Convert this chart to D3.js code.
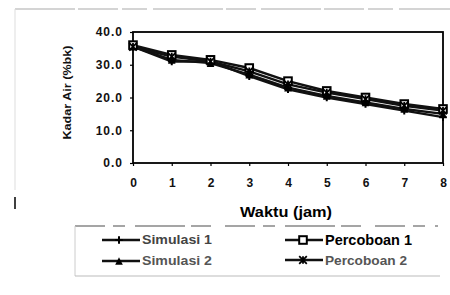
<!DOCTYPE html>
<html>
<head>
<meta charset="utf-8">
<script src="https://cdn.jsdelivr.net/npm/d3@7"></script>
<style>
  body { margin: 0; background: #fff; }
  svg { display: block; font-family: "Liberation Sans", Arial, sans-serif; }
</style>
</head>
<body>
<div id="chart"></div>
<script>
var hours = [0, 1, 2, 3, 4, 5, 6, 7, 8];
var yTicks = [0, 10, 20, 30, 40];
var simulasi1 = [35.5, 31.0, 31.0, 26.5, 22.5, 20.0, 18.0, 16.0, 14.0];
var simulasi2 = [35.5, 31.5, 30.5, 27.0, 23.0, 20.5, 18.5, 16.5, 15.0];
var percoboan1 = [36.0, 33.0, 31.5, 29.0, 25.0, 22.0, 20.0, 18.0, 16.5];
var percoboan2 = [35.5, 32.5, 31.0, 28.0, 24.0, 21.5, 19.5, 17.5, 16.0];
var seriesNames = ['Simulasi 1', 'Simulasi 2', 'Percoboan 1', 'Percoboan 2'];

var series = [
  { name: seriesNames[0], values: simulasi1, marker: 'plus' },
  { name: seriesNames[1], values: simulasi2, marker: 'triangle' },
  { name: seriesNames[2], values: percoboan1, marker: 'square' },
  { name: seriesNames[3], values: percoboan2, marker: 'cross' }
];

var width = 450, height = 295;
var plot = { left: 133, right: 443, top: 32, bottom: 163 };

var svg = d3.select('#chart').append('svg')
  .attr('width', width)
  .attr('height', height);

// faint scan frame
svg.append('line')
  .attr('x1', 15).attr('x2', 450).attr('y1', 9).attr('y2', 9)
  .attr('stroke', '#aaa').attr('stroke-width', 1.2)
  .attr('stroke-dasharray', '60,3,40,4,25,6,70,3,30,5');
svg.append('line')
  .attr('x1', 15).attr('x2', 15).attr('y1', 9).attr('y2', 190)
  .attr('stroke', '#ddd').attr('stroke-width', 1);
svg.append('line')
  .attr('x1', 15).attr('x2', 15).attr('y1', 197).attr('y2', 209)
  .attr('stroke', '#000').attr('stroke-width', 1.5);

var x = d3.scaleLinear().domain([0, 8]).range([plot.left, plot.right]);
var y = d3.scaleLinear().domain([0, 40]).range([plot.bottom, plot.top]);

// plot frame
svg.append('rect')
  .attr('x', plot.left).attr('y', plot.top)
  .attr('width', plot.right - plot.left)
  .attr('height', plot.bottom - plot.top)
  .attr('fill', 'none').attr('stroke', '#000').attr('stroke-width', 1.8);

var xAxis = svg.append('g')
  .attr('transform', 'translate(0,' + plot.bottom + ')')
  .call(d3.axisBottom(x).tickValues(hours).tickSize(3).tickPadding(12).tickFormat(d3.format('d')));
var yAxis = svg.append('g')
  .attr('transform', 'translate(' + plot.left + ',0)')
  .call(d3.axisLeft(y).tickValues(yTicks).tickSize(3).tickPadding(7).tickFormat(d3.format('.1f')));

[xAxis, yAxis].forEach(function(ax) {
  ax.select('.domain').remove();
  ax.selectAll('line').attr('stroke', '#000').attr('stroke-width', 1.2);
  ax.selectAll('text')
    .attr('fill', '#111')
    .style('font-size', '12px')
    .style('font-weight', 'bold');
});
yAxis.selectAll('text').style('letter-spacing', '1px');

svg.append('text')
  .attr('transform', 'translate(71,' + ((plot.top + plot.bottom) / 2 - 5) + ') rotate(-90)')
  .attr('text-anchor', 'middle')
  .attr('fill', '#111')
  .attr('textLength', 94)
  .attr('lengthAdjust', 'spacingAndGlyphs')
  .style('font-size', '10px')
  .style('font-weight', 'bold')
  .text('Kadar Air (%bk)');

svg.append('text')
  .attr('x', 240).attr('y', 217)
  .attr('textLength', 92)
  .attr('lengthAdjust', 'spacingAndGlyphs')
  .style('font-size', '14px')
  .style('font-weight', 'bold')
  .text('Waktu (jam)');

function drawMarker(g, type, size) {
  var s = size;
  if (type === 'square') {
    g.append('rect').attr('x', -s).attr('y', -s).attr('width', 2 * s).attr('height', 2 * s)
      .attr('fill', '#fff').attr('stroke', '#000').attr('stroke-width', 2);
  } else if (type === 'triangle') {
    g.append('path').attr('d', 'M0,' + (-s) + 'L' + s + ',' + s + 'L' + (-s) + ',' + s + 'Z')
      .attr('fill', '#000');
  } else if (type === 'plus') {
    g.append('path').attr('d', 'M0,' + (-s) + 'V' + s + 'M' + (-s) + ',0H' + s)
      .attr('stroke', '#000').attr('stroke-width', 2);
  } else {
    g.append('path').attr('d', 'M' + (-s) + ',' + (-s) + 'L' + s + ',' + s + 'M' + s + ',' + (-s) + 'L' + (-s) + ',' + s + 'M0,' + (-s) + 'V' + s)
      .attr('stroke', '#000').attr('stroke-width', 1.8);
  }
}

var line = d3.line()
  .x(function(d, i) { return x(hours[i]); })
  .y(function(d) { return y(d); });

series.forEach(function(s) {
  svg.append('path')
    .datum(s.values)
    .attr('d', line)
    .attr('fill', 'none')
    .attr('stroke', '#111')
    .attr('stroke-width', 2.4);
});
series.forEach(function(s) {
  s.values.forEach(function(v, i) {
    var g = svg.append('g').attr('transform', 'translate(' + x(hours[i]) + ',' + y(v) + ')');
    drawMarker(g, s.marker, 3.8);
  });
});

// legend
var legend = svg.append('g');
legend.append('line')
  .attr('x1', 75).attr('x2', 438).attr('y1', 226).attr('y2', 226)
  .attr('stroke', '#888').attr('stroke-width', 1.5)
  .attr('stroke-dasharray', '30,8,12,10,50,6,20,14');
legend.append('line')
  .attr('x1', 75).attr('x2', 75).attr('y1', 226).attr('y2', 276)
  .attr('stroke', '#ccc').attr('stroke-width', 1);
legend.append('line')
  .attr('x1', 75).attr('x2', 440).attr('y1', 276).attr('y2', 276)
  .attr('stroke', '#bbb').attr('stroke-width', 1);

var legendPos = [
  { x: 102, y: 240, mx: 17, color: '#444', size: 12, len: 70 },
  { x: 102, y: 261, mx: 17, color: '#555', size: 12, len: 70 },
  { x: 285, y: 240, mx: 18, color: '#000', size: 15, len: 87 },
  { x: 285, y: 260, mx: 18, color: '#555', size: 13, len: 82 }
];
series.forEach(function(s, i) {
  var p = legendPos[i];
  var g = legend.append('g').attr('transform', 'translate(' + p.x + ',' + p.y + ')');
  g.append('line').attr('x1', 0).attr('x2', 38).attr('y1', 0).attr('y2', 0)
    .attr('stroke', '#111').attr('stroke-width', 2.4);
  var m = g.append('g').attr('transform', 'translate(' + p.mx + ',0)');
  drawMarker(m, s.marker, 3.8);
  g.append('text')
    .attr('x', 40).attr('y', 0).attr('dy', '0.36em')
    .attr('fill', p.color)
    .attr('textLength', p.len)
    .attr('lengthAdjust', 'spacingAndGlyphs')
    .style('font-size', p.size + 'px')
    .style('font-weight', 'bold')
    .text(s.name);
});
</script>
</body>
</html>
